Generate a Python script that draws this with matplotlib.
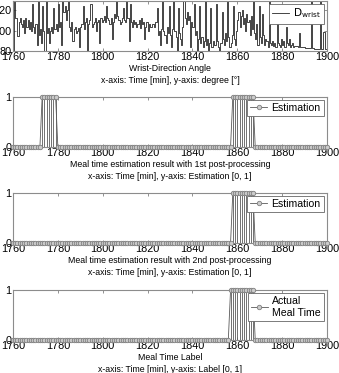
import numpy as np
import matplotlib
matplotlib.use('Agg')
from matplotlib import pyplot as plt

plt.rcParams['font.family'] = ['Liberation Sans', 'DejaVu Sans']

# wrist-direction angle, one sample every 0.5 min from 1760 to 1900
wrist_t0, wrist_dt = 1760, 0.5
wrist = [
    75, 140, 112, 112, 95, 108, 112, 106, 104, 110, 98, 112, 104, 110, 102, 108, 100, 126, 104, 98,
    106, 86, 140, 96, 102, 88, 124, 100, 70, 140, 98, 103, 88, 100, 104, 98, 122, 102, 106, 100,
    126, 104, 108, 86, 140, 118, 124, 110, 120, 140, 104, 100, 108, 90, 102, 104, 98, 100, 103, 84,
    104, 106, 124, 102, 108, 112, 70, 106, 110, 126, 104, 106, 108, 112, 100, 108, 110, 88, 112, 108,
    110, 114, 108, 124, 112, 110, 106, 112, 92, 108, 116, 112, 140, 114, 110, 106, 108, 112, 122, 110,
    108, 140, 112, 90, 126, 108, 104, 110, 106, 108, 104, 106, 110, 103, 112, 106, 108, 92, 104, 108,
    100, 106, 104, 104, 106, 106, 104, 108, 122, 96, 100, 86, 102, 140, 100, 96, 88, 104, 98, 124,
    96, 84, 102, 140, 100, 94, 70, 122, 98, 92, 86, 104, 140, 112, 106, 118, 110, 114, 84, 108,
    104, 126, 96, 100, 70, 92, 124, 88, 94, 84, 90, 140, 86, 92, 75, 88, 122, 84, 90, 86,
    86, 126, 90, 84, 70, 88, 118, 92, 86, 98, 90, 140, 94, 84, 88, 96, 124, 92, 86, 100,
    110, 118, 104, 114, 120, 106, 112, 100, 116, 108, 110, 96, 114, 102, 140, 98, 92, 106, 86, 124,
    94, 88, 116, 96, 86, 92, 90, 84, 140, 88, 86, 90, 85, 88, 84, 112, 88, 86, 84, 92,
    86, 90, 84, 104, 88, 86, 92, 84, 86, 88, 84, 85, 85, 85, 84, 98, 84, 84, 84, 84,
    83, 83, 83, 83, 83, 83, 140, 83, 82, 82, 82, 82, 82, 82, 140, 82, 99, 99, 82, 82,
    82,
]

# meal labels, one sample per minute; minutes where the label is 1
minutes = list(range(1760, 1901))
est1_on = [1773, 1774, 1775, 1776, 1777, 1778, 1779,
           1858, 1859, 1860, 1861, 1862, 1863, 1864, 1865, 1866, 1867]
est2_on = [1858, 1859, 1860, 1861, 1862, 1863, 1864, 1865, 1866, 1867]
actual_on = [1857, 1858, 1859, 1860, 1861, 1862, 1863, 1864, 1865, 1866, 1867]

titles = ['Meal time estimation result with 1st post-processing\nx-axis: Time [min], y-axis: Estimation [0, 1]',
          'Meal time estimation result with 2nd post-processing\nx-axis: Time [min], y-axis: Estimation [0, 1]',
          'Meal Time Label\nx-axis: Time [min], y-axis: Label [0, 1]']
legends = ['Estimation', 'Estimation', 'Actual\nMeal Time']

W, H = 339, 373
fig = plt.figure(figsize=(W / 100, H / 100), dpi=100)
left, width = 13 / W, 314 / W
tops = [1, 97, 193, 290]


def style(ax):
    ax.set_xlim(1760, 1900)
    ax.set_xticks(range(1760, 1901, 20))
    ax.tick_params(direction='in', length=2, width=0.5, labelsize=7.8, pad=1,
                   top=True, right=True, color='0.4')
    for s in ax.spines.values():
        s.set_color('0.55')
        s.set_linewidth(0.8)


def legend(ax, y):
    ax.legend(loc='upper right', bbox_to_anchor=(0.99, y), fontsize=7.6, fancybox=False,
              edgecolor='0.4', framealpha=1, handlelength=1.6, borderpad=0.3,
              borderaxespad=0, handletextpad=0.4).get_frame().set_linewidth(0.6)


# wrist angle panel
ax = fig.add_axes([left, 1 - (tops[0] + 50) / H, width, 50 / H])
wt = wrist_t0 + wrist_dt * np.arange(len(wrist))
ax.plot(wt, wrist, drawstyle='steps-post', color='0.15', lw=0.6,
        label=r'$\mathrm{D}_{\mathrm{wrist}}$')
ax.set_ylim(80, 129)
ax.set_yticks([80, 100, 120])
style(ax)
ax.set_xlabel('Wrist-Direction Angle\nx-axis: Time [min], y-axis: degree [°]',
              fontsize=6.3, labelpad=1.5, linespacing=1.3)
legend(ax, 0.95)

for i, on in enumerate([est1_on, est2_on, actual_on]):
    ax = fig.add_axes([left, 1 - (tops[i + 1] + 50) / H, width, 50 / H])
    vals = [1 if m in on else 0 for m in minutes]
    ax.vlines(on, 0, 1, color='0.35', lw=0.6)
    ax.plot(minutes, vals, color='0.35', lw=0.6, marker='o', ms=3.2, mew=0.6,
            mfc='0.8', mec='0.5', label=legends[i], clip_on=False, zorder=3)
    ax.set_ylim(0, 1)
    ax.set_yticks([0, 1])
    style(ax)
    ax.set_xlabel(titles[i], fontsize=6.3, labelpad=1.5, linespacing=1.3)
    legend(ax, 0.94)

fig.savefig('out.png', dpi=100)
